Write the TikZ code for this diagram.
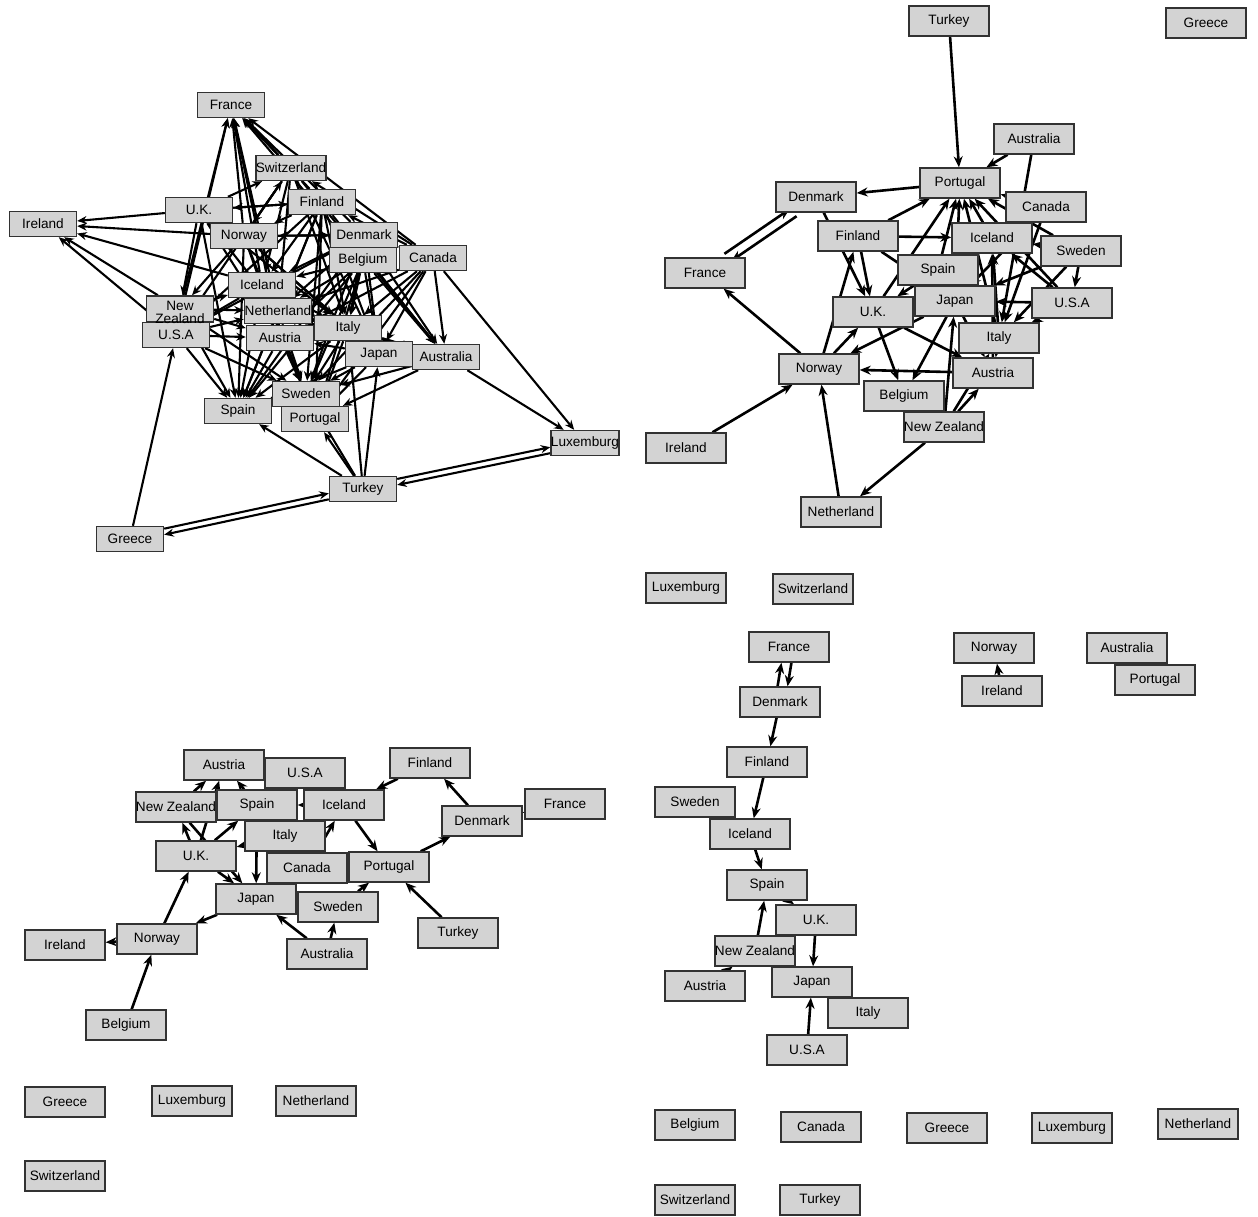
\documentclass[tikz,border=0pt]{standalone}
\usepackage{fontspec}
\setmainfont{Liberation Sans}
\usetikzlibrary{arrows.meta,backgrounds}
\definecolor{boxgray}{RGB}{211,211,211}
\definecolor{boxline}{RGB}{50,50,50}
\begin{document}
\begin{tikzpicture}[x=1pt,y=-1pt,
  box/.style={rectangle,fill=boxgray,draw=boxline,line width=1.4pt,minimum width=80pt,minimum height=30pt,inner sep=0pt,font=\fontsize{13.6}{15}\selectfont},
  sbox/.style={box,minimum width=67pt,minimum height=25pt},
  arr/.style={line width=2.6pt,-{Stealth[length=11pt,width=9pt]}},
  arrs/.style={line width=2.1pt,-{Stealth[length=9.5pt,width=8pt]}},
  psh/.style={transform canvas={shift={#1}}}]
\useasboundingbox (0,0) rectangle (1258,1216);
% ---------------- panel 1 (top left) ----------------
\node[sbox] (aFra) at (231,105) {France};
\node[sbox] (aSwi) at (291,168) {Switzerland};
\node[sbox] (aFin) at (322,202) {Finland};
\node[sbox] (aUK)  at (199,210) {U.K.};
\node[sbox] (aIre) at (43,224) {Ireland};
\node[sbox] (aNor) at (244,236) {Norway};
\node[sbox] (aDen) at (364,235) {Denmark};
\node[sbox] (aBel) at (363,260) {Belgium};
\node[sbox] (aCan) at (433,258) {Canada};
\node[sbox] (aIce) at (262,285) {Iceland};
\node[sbox] (aUSA) at (176,335) {U.S.A};
\node[sbox,minimum height=26pt] (aNZ) at (180,309) {\raisebox{-14pt}[0pt][0pt]{\shortstack{New\\Zealand}}};
\node[sbox] (aNet) at (278,311) {Netherland};
\node[sbox] (aIta) at (348,328) {Italy};
\node[sbox] (aAus) at (280,338) {Austria};
\node[sbox] (aJap) at (379,354) {Japan};
\node[sbox] (aAul) at (446,357) {Australia};
\node[sbox] (aSwe) at (306,394) {Sweden};
\node[sbox] (aSpa) at (238,411) {Spain};
\node[sbox] (aPor) at (315,419) {Portugal};
\node[sbox] (aLux) at (585,443) {Luxemburg};
\node[sbox] (aTur) at (363,489) {Turkey};
\node[sbox] (aGre) at (130,539) {Greece};
% ---------------- panel 2 (top right) ----------------
\node[box] (bTur) at (949,21) {Turkey};
\node[box] (bGre) at (1206,23) {Greece};
\node[box] (bAul) at (1034,139) {Australia};
\node[box] (bPor) at (960,183) {Portugal};
\node[box] (bDen) at (816,197) {Denmark};
\node[box] (bCan) at (1046,207) {Canada};
\node[box] (bFin) at (858,236) {Finland};
\node[box] (bIce) at (992,238) {Iceland};
\node[box] (bSwe) at (1081,251) {Sweden};
\node[box] (bFra) at (705,273) {France};
\node[box] (bSpa) at (938,270) {Spain};
\node[box] (bJap) at (955,301) {Japan};
\node[box] (bUSA) at (1072,303) {U.S.A};
\node[box] (bUK)  at (873,312) {U.K.};
\node[box] (bIta) at (999,338) {Italy};
\node[box] (bNor) at (819,369) {Norway};
\node[box] (bAus) at (993,373) {Austria};
\node[box] (bBel) at (904,396) {Belgium};
\node[box] (bNZ)  at (944,427) {New Zealand};
\node[box] (bIre) at (686,448) {Ireland};
\node[box] (bNet) at (841,512) {Netherland};
\node[box] (bLux) at (686,588) {Luxemburg};
\node[box] (bSwi) at (813,589) {Switzerland};
% ---------------- panel 3 (bottom left) ----------------
\node[box] (cAus) at (224,765) {Austria};
\node[box] (cUSA) at (305,773) {U.S.A};
\node[box] (cFin) at (430,763) {Finland};
\node[box] (cNZ)  at (176,807) {New Zealand};
\node[box] (cSpa) at (257,805) {Spain};
\node[box] (cIce) at (344,805) {Iceland};
\node[box] (cFra) at (565,804) {France};
\node[box] (cDen) at (482,821) {Denmark};
\node[box] (cIta) at (285,836) {Italy};
\node[box] (cUK)  at (196,856) {U.K.};
\node[box] (cCan) at (307,868) {Canada};
\node[box] (cPor) at (389,867) {Portugal};
\node[box] (cJap) at (256,899) {Japan};
\node[box] (cSwe) at (338,907) {Sweden};
\node[box] (cTur) at (458,933) {Turkey};
\node[box] (cNor) at (157,939) {Norway};
\node[box] (cIre) at (65,945) {Ireland};
\node[box] (cAul) at (327,954) {Australia};
\node[box] (cBel) at (126,1025) {Belgium};
\node[box] (cGre) at (65,1102) {Greece};
\node[box] (cLux) at (192,1101) {Luxemburg};
\node[box] (cNet) at (316,1101) {Netherland};
\node[box] (cSwi) at (65,1176) {Switzerland};
% ---------------- panel 4 (bottom right) ----------------
\node[box] (dFra) at (789,647) {France};
\node[box] (dNor) at (994,648) {Norway};
\node[box] (dIre) at (1002,691) {Ireland};
\node[box] (dAul) at (1127,648) {Australia};
\node[box] (dPor) at (1155,680) {Portugal};
\node[box] (dDen) at (780,702) {Denmark};
\node[box] (dFin) at (767,762) {Finland};
\node[box] (dSwe) at (695,802) {Sweden};
\node[box] (dIce) at (750,834) {Iceland};
\node[box] (dSpa) at (767,885) {Spain};
\node[box] (dUK)  at (816,920) {U.K.};
\node[box] (dNZ)  at (755,951) {New Zealand};
\node[box] (dAus) at (705,986) {Austria};
\node[box] (dJap) at (812,982) {Japan};
\node[box] (dIta) at (868,1013) {Italy};
\node[box] (dUSA) at (807,1050) {U.S.A};
\node[box] (dBel) at (695,1125) {Belgium};
\node[box] (dCan) at (821,1127) {Canada};
\node[box] (dGre) at (947,1128) {Greece};
\node[box] (dLux) at (1072,1128) {Luxemburg};
\node[box] (dNet) at (1198,1124) {Netherland};
\node[box] (dSwi) at (695,1200) {Switzerland};
\node[box] (dTur) at (820,1200) {Turkey};
% ================= connectors =================
\begin{pgfonlayer}{background}
% panel 1
\foreach \s/\t in {aUSA/aFra,aNZ/aFra,aIce/aFra,aNor/aFra,aNet/aFra,aFin/aFra,aSwi/aFra,aDen/aFra,aCan/aFra,aBel/aFra,aAus/aFra,
  aUK/aIre,aNor/aIre,aIce/aIre,aNZ/aIre,aUSA/aIre,
  aCan/aLux,aAul/aLux,aGre/aUSA,
  aTur/aSpa,aTur/aPor,aTur/aSwe,aTur/aJap,aTur/aIta,
  aFin/aAul,aDen/aAul,aBel/aAul,aCan/aAul,aSwi/aAul,aIta/aAul,aNet/aAul,aAul/aPor,aAul/aSwe,
  aUSA/aSpa,aNZ/aSpa,aIce/aSpa,aNet/aSpa,aAus/aSpa,aNor/aSpa,aUK/aSpa,aIta/aSpa,aJap/aSpa,aFin/aSpa,aDen/aSpa,aBel/aSpa,
  aUSA/aSwe,aNZ/aSwe,aIce/aSwe,aNet/aSwe,aAus/aSwe,aNor/aSwe,aIta/aSwe,aJap/aSwe,aFin/aSwe,aDen/aSwe,aBel/aSwe,aCan/aSwe,
  aIta/aPor,aJap/aPor,aFin/aPor,aBel/aPor,aCan/aPor,aIce/aPor,
  aSwi/aIce,aSwi/aNet,aSwi/aNor,aFin/aNor,aFin/aIce,aFin/aNet,aFin/aUK,aDen/aIce,aDen/aNet,aDen/aNor,
  aBel/aIce,aBel/aNet,aBel/aAus,aCan/aIta,aCan/aNet,aCan/aAus,aCan/aJap,aCan/aFin,aCan/aSwi,aCan/aDen,
  aNor/aSwi,aUK/aSwi,aNor/aDen,aUK/aFin,aUSA/aNet,aNZ/aIce,aNZ/aNet,aUSA/aAus,aNZ/aAus,
  aIta/aIce,aIta/aNet,aJap/aNet,aJap/aAus,aIta/aAus,aUK/aNZ,aNor/aNZ,aIce/aUSA,
  aFin/aJap,aFin/aIta,aDen/aJap,aDen/aIta,aBel/aIta,aBel/aJap,aSwi/aJap,aSwi/aIta,aIce/aJap,
  aUK/aIta,aNor/aIta,aNor/aJap,aUK/aNet,aUK/aAus,aNor/aAus,aSwi/aUSA,aFin/aUSA,aDen/aUSA}
  \draw[arrs] (\s) -- (\t);
\draw[arrs,psh={(0pt,3pt)}] (aGre) -- (aTur);
\draw[arrs,psh={(0pt,-3pt)}] (aTur) -- (aGre);
\draw[arrs,psh={(0pt,3pt)}] (aTur) -- (aLux);
\draw[arrs,psh={(0pt,-3pt)}] (aLux) -- (aTur);
% panel 2
\foreach \s/\t in {bTur/bPor,bAul/bPor,bAul/bIta,bPor/bDen,bFin/bPor,bFin/bIce,bUK/bPor,bDen/bUK,bFin/bUK,
  bNor/bFin,bNor/bFra,bIre/bNor,bNet/bNor,bNZ/bNet,bAus/bNor,bUK/bBel,bJap/bBel,bNor/bUK,bJap/bNor,
  bUK/bAus,bNZ/bAus,bNZ/bIta,bNZ/bJap,bFin/bJap,bSpa/bUK,
  bJap/bPor,bIce/bPor,bCan/bPor,bSwe/bPor,bIta/bPor,bUSA/bPor,bSpa/bPor,
  bUSA/bIce,bSwe/bIce,bIta/bIce,bAus/bIce,bSwe/bJap,bUSA/bJap,bUSA/bIta,bSwe/bIta,bCan/bIta,
  bJap/bAus,bIta/bAus,bSwe/bUSA,bCan/bJap}
  \draw[arr] (\s) -- (\t);
\draw[arr,psh={(-3.5pt,3.5pt)}] (bFra) -- (bDen);
\draw[arr,psh={(3.5pt,-3.5pt)}] (bDen) -- (bFra);
% panel 3
\foreach \s/\t in {cBel/cNor,cNor/cIre,cNor/cUK,cJap/cNor,cAul/cJap,cAul/cSwe,cUK/cJap,cNZ/cJap,cSpa/cJap,
  cUK/cSpa,cUK/cNZ,cUK/cAus,cNZ/cAus,cSpa/cAus,cIta/cUK,cIce/cSpa,cCan/cIce,cIta/cIce,cIce/cPor,
  cFin/cIce,cDen/cFin,cPor/cDen,cTur/cPor,cSwe/cPor,cFra/cDen,cCan/cJap,cJap/cSwe}
  \draw[arr] (\s) -- (\t);
% panel 4
\foreach \s/\t in {dDen/dFin,dFin/dIce,dIce/dSpa,dNZ/dSpa,dUK/dJap,dUSA/dJap,dAus/dNZ,dSpa/dUK,dIre/dNor}
  \draw[arr] (\s) -- (\t);
\draw[arr,psh={(-5pt,0pt)}] (dDen) -- (dFra);
\draw[arr,psh={(5pt,0pt)}] (dFra) -- (dDen);
\end{pgfonlayer}
\end{tikzpicture}
\end{document}
